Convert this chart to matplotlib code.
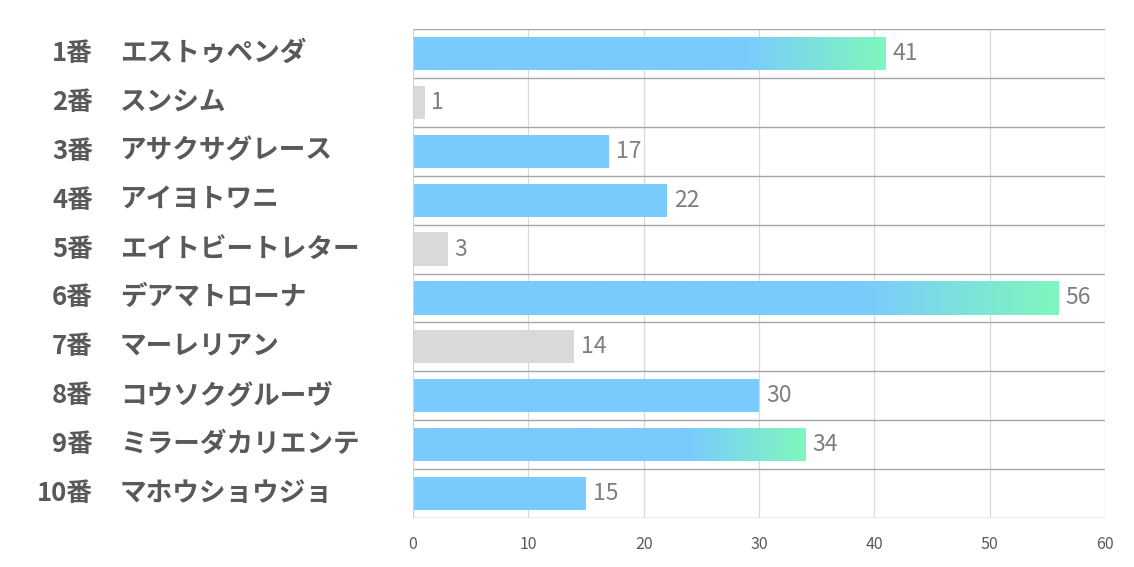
import numpy as np
import matplotlib.pyplot as plt
import matplotlib.transforms as mtransforms
from matplotlib.colors import LinearSegmentedColormap

plt.rcParams['font.family'] = ['Noto Sans CJK JP', 'DejaVu Sans']

# data
numbers = ['1番', '2番', '3番', '4番', '5番', '6番', '7番', '8番', '9番', '10番']
names = ['エストゥペンダ', 'スンシム', 'アサクサグレース', 'アイヨトワニ', 'エイトビートレター',
         'デアマトローナ', 'マーレリアン', 'コウソクグルーヴ', 'ミラーダカリエンテ', 'マホウショウジョ']
values = [41, 1, 17, 22, 3, 56, 14, 30, 34, 15]
gray_rows = ['2番', '5番', '7番']
x_ticks = [0, 10, 20, 30, 40, 50, 60]

blue = '#7acbfd'
green = '#7ff7bd'
gray = '#d9d9d9'
text_col = '#595959'

fig = plt.figure(figsize=(11.34, 5.67), dpi=100)
ax = fig.add_axes([413 / 1134, (567 - 518) / 567, (1105 - 413) / 1134, (518 - 29) / 567])

n = len(values)
y = np.arange(n)
colors = [gray if num in gray_rows else blue for num in numbers]
bars = ax.barh(y, values, height=0.68, color=colors, zorder=2)

# gradient on the three largest bars
top3 = sorted(range(n), key=lambda i: values[i], reverse=True)[:3]
cmap = LinearSegmentedColormap.from_list('bg', [(0, blue), (0.70, blue), (1, green)])
grad = np.linspace(0, 1, 256).reshape(1, -1)
for i in top3:
    b = bars[i]
    im = ax.imshow(grad, cmap=cmap, aspect='auto', zorder=3,
                   extent=[0, values[i], i + 0.34, i - 0.34], interpolation='bicubic')
    im.set_clip_path(b)

ax.set_xlim(0, 60)
ax.set_ylim(n - 0.5, -0.5)
ax.set_aspect('auto')

# grid lines
for xv in x_ticks[1:]:
    ax.axvline(xv, color='#d9d9d9', lw=0.9, zorder=1)
for k in range(n + 1):
    ax.axhline(k - 0.5, color='#a6a6a6', lw=1.0, zorder=4)
ax.axvline(0, color='#d0d0d0', lw=0.9, zorder=5)

for s in ax.spines.values():
    s.set_visible(False)

ax.set_xticks(x_ticks)
ax.set_xticklabels([str(t) for t in x_ticks], fontsize=11.5, color=text_col)
ax.tick_params(axis='x', length=0, pad=13)
ax.set_yticks([])

# value labels
for i, v in enumerate(values):
    ax.text(v + 0.6, i, str(v), va='center', ha='left', fontsize=16.5, color='#7f7f7f', zorder=6)

# row labels
trans = mtransforms.blended_transform_factory(fig.transFigure, ax.transData)
for i in range(n):
    fig.text(93 / 1134, i, numbers[i], transform=trans, ha='right', va='center',
             fontsize=18.5, fontweight='bold', color=text_col)
    fig.text(120 / 1134, i, names[i], transform=trans, ha='left', va='center',
             fontsize=19.2, fontweight='bold', color=text_col)

fig.savefig('out.png', dpi=100, facecolor='white')
